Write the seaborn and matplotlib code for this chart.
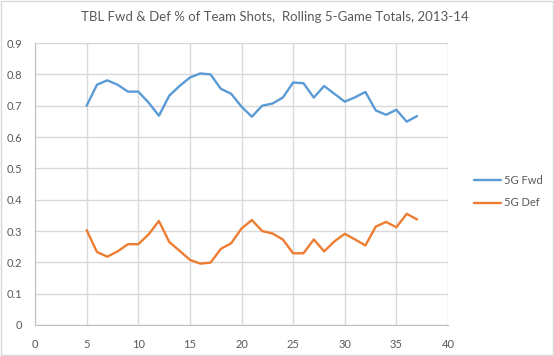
import pandas as pd
import matplotlib
matplotlib.use("Agg")
import matplotlib.pyplot as plt
import seaborn as sns

# rolling 5-game window ending at game n
games = list(range(5, 38))
fwd_pct = [0.700, 0.767, 0.781, 0.767, 0.745, 0.745, 0.710, 0.668, 0.732, 0.763,
           0.790, 0.803, 0.800, 0.754, 0.738, 0.697, 0.665, 0.700, 0.707, 0.726,
           0.774, 0.772, 0.726, 0.763, 0.738, 0.713, 0.727, 0.744, 0.685, 0.671,
           0.687, 0.649, 0.667]
def_pct = [0.303, 0.233, 0.218, 0.235, 0.258, 0.258, 0.289, 0.332, 0.265, 0.237,
           0.208, 0.196, 0.199, 0.243, 0.261, 0.308, 0.335, 0.300, 0.292, 0.273,
           0.229, 0.229, 0.273, 0.235, 0.267, 0.291, 0.273, 0.254, 0.314, 0.329,
           0.312, 0.355, 0.337]
series_names = ["5G Fwd", "5G Def"]

df = pd.concat([
    pd.DataFrame({"Game": games, "Pct": fwd_pct, "Series": series_names[0]}),
    pd.DataFrame({"Game": games, "Pct": def_pct, "Series": series_names[1]}),
])

sns.set_style("white")
plt.rcParams["font.family"] = ["Lato", "DejaVu Sans"]

fig = plt.figure(figsize=(5.54, 3.56), dpi=100)
ax = fig.add_axes([0.0632, 0.0871, 0.7455, 0.7919])

sns.lineplot(data=df, x="Game", y="Pct", hue="Series",
             palette=["#5B9BD5", "#ED7D31"], linewidth=1.7, ax=ax)

ax.set_xlim(0, 40)
ax.set_ylim(0, 0.9)
ax.set_xticks(range(0, 41, 5))
ax.set_yticks([i / 10 for i in range(10)])
ax.set_yticklabels(["0"] + [f"{i / 10:.1f}" for i in range(1, 10)])
ax.grid(True, color="#D9D9D9", linewidth=1)
ax.set_axisbelow(True)
for s in ["top", "right"]:
    ax.spines[s].set_visible(False)
for s in ["left", "bottom"]:
    ax.spines[s].set_color("#BFBFBF")
ax.tick_params(axis="y", length=3, color="#BFBFBF", labelsize=8, labelcolor="#595959", pad=6)
ax.tick_params(axis="x", length=0, labelsize=8, labelcolor="#595959", pad=10)
ax.set_xlabel("")
ax.set_ylabel("")

ax.legend(frameon=False, loc="center left", bbox_to_anchor=(0.856, 0.461),
          bbox_transform=fig.transFigure, borderaxespad=0, borderpad=0,
          fontsize=8, labelcolor="#595959", handlelength=2.4, handletextpad=0.3,
          labelspacing=1.0)

fig.text(0.497, 0.952, "TBL Fwd & Def % of Team Shots,  Rolling 5-Game Totals, 2013-14",
         ha="center", va="center", fontsize=9.5, color="#595959")

fig.patches.append(plt.Rectangle((0.002, 0.003), 0.996, 0.994, transform=fig.transFigure,
                                 fill=False, edgecolor="#D9D9D9", linewidth=1))

fig.savefig("out.png", dpi=100)
